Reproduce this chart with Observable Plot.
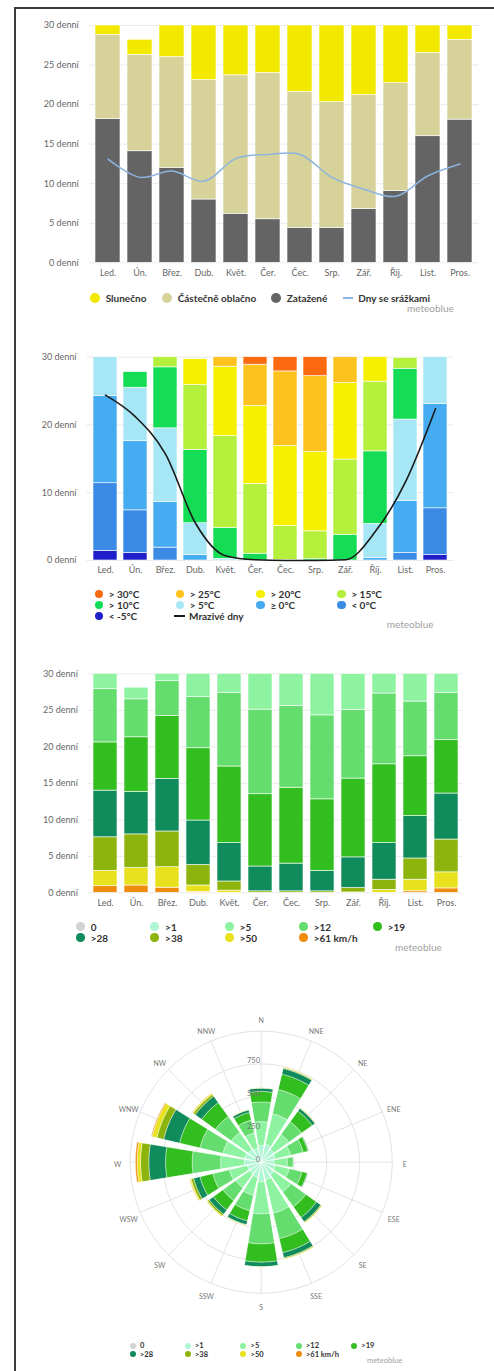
<!DOCTYPE html>
<html><head><meta charset="utf-8">
<script src="https://cdn.jsdelivr.net/npm/d3@7"></script>
<script src="https://cdn.jsdelivr.net/npm/@observablehq/plot@0.6"></script>
<style>
body{margin:0;background:#fff;font-family:Lato,"Open Sans",sans-serif;}
#page{position:relative;width:494px;height:1371px;overflow:hidden;background:#fff;}
#frame{position:absolute;left:14px;top:7px;width:600px;height:1500px;border-left:2px solid #3c3c3c;border-top:2px solid #3c3c3c;}
.li{position:absolute;display:flex;align-items:center;font-weight:bold;color:#333;white-space:nowrap;}
.li .sw{display:inline-block;border-radius:50%;flex:none;}
.li .ln{display:inline-block;height:2px;flex:none;}
.mb{position:absolute;color:#a0a0a0;white-space:nowrap;line-height:1;}
</style></head>
<body><div id="page"><div id="frame"></div></div>
<script>
// ---------- DATA ----------
const months = ["Led.","Ún.","Břez.","Dub.","Květ.","Čer.","Čec.","Srp.","Zář.","Říj.","List.","Pros."];

// Panel 1: cloud cover (days), bottom to top
const cloudCats = ["Zatažené","Částečně oblačno","Slunečno"];
const overcast = [18.2,14.1,12.0,8.0,6.2,5.5,4.4,4.4,6.8,9.1,16.0,18.1];
const partly   = [10.6,12.2,14.0,15.1,17.5,18.5,17.2,15.9,14.4,13.6,10.5,10.1];
const sunny    = [2.2,1.9,5.0,6.9,7.3,6.0,9.4,10.7,8.8,8.3,3.5,2.8];
const precipDays = [13.1,10.8,11.6,10.3,13.2,13.7,13.7,10.8,9.3,8.4,11.0,12.5];
const cloudColors = ["#646464","#d7d29a","#f3e800"];

// Panel 2: max temperature (days), bottom to top
const tempCats = ["< -5°C","< 0°C","≥ 0°C","> 5°C","> 10°C","> 15°C","> 20°C","> 25°C","> 30°C"];
const tLtM5 = [1.4,1.1,0,0,0,0,0,0,0,0,0,0.8];
const tLt0  = [10.0,6.3,1.9,0,0,0,0,0,0,0,1.1,6.9];
const tGe0  = [12.9,10.2,6.7,0.8,0,0,0,0,0,0.4,7.7,15.4];
const tGt5  = [6.7,7.9,10.9,4.7,0.25,0,0,0,0,5.0,12.0,7.9];
const tGt10 = [0,2.3,9.0,10.8,4.55,1.0,0.1,0.2,3.8,10.7,7.5,0];
const tGt15 = [0,0,2.5,9.6,13.55,10.3,5.0,4.1,11.1,10.3,1.6,0];
const tGt20 = [0,0,0,3.8,10.25,11.5,11.8,11.7,11.3,4.6,0,0];
const tGt25 = [0,0,0,0,2.4,6.1,11.0,11.2,3.8,0,0,0];
const tGt30 = [0,0,0,0,0,1.1,3.1,3.8,0,0,0,0];
const frostDays = [24.4,21.2,15.7,5.5,0.7,0.1,0,0,0.1,4.3,11.6,22.4];
const tempColors = ["#1f1ec8","#3a8ae6","#46acf2","#a6e6f5","#14dc55","#b4f03c","#f7ef00","#fdc21e","#fb6a10"];

// Panel 3: wind speed (days), bottom to top
const windBarCats = [">61 km/h",">50",">38",">28",">19",">12",">5"];
const w61 = [0.9,1.0,0.7,0.1,0,0,0,0,0,0,0.2,0.6];
const w50 = [2.1,2.4,2.8,0.9,0.3,0,0,0,0.05,0.4,1.6,2.2];
const w38 = [4.6,4.6,4.9,2.8,1.25,0.2,0.2,0.2,0.6,1.4,2.9,4.5];
const w28 = [6.4,5.8,7.2,6.1,5.25,3.4,3.8,2.8,4.2,5.0,5.8,6.3];
const w19 = [6.6,7.5,8.6,9.9,10.5,9.9,10.4,9.8,10.8,10.8,8.2,7.3];
const w12 = [7.3,5.2,4.8,7.0,10.1,11.6,11.2,11.5,9.4,9.7,7.5,6.45];
const w5  = [3.1,1.6,2.0,3.25,3.6,4.9,5.4,6.7,4.9,3.7,3.8,3.6];

// Panel 4: wind rose (hours per direction and speed class)
const dirs = ["N","NNE","NE","ENE","E","ESE","SE","SSE","S","SSW","SW","WSW","W","WNW","NW","NNW"];
const speedCats = ["0",">1",">5",">12",">19",">28",">38",">50",">61 km/h"];
const speedColors = ["#d2d2d2","#b0f5d4","#8ef3a0","#64dc6e","#32be1e","#108c5c","#8cb40c","#e8e21e","#f08c0c"];
const r0  = [5,5,5,5,5,5,5,5,5,5,5,5,5,5,5,5];
const r1  = [125,135,115,105,95,105,115,135,145,115,105,105,125,125,115,105];
const r5  = [180,240,140,120,100,110,160,260,245,140,130,140,180,170,160,120];
const r12 = [150,190,120,100,45,100,140,200,228,120,120,130,217,180,150,100];
const r19 = [80,120,100,35,2,40,100,110,140,80,90,100,203,160,130,60];
const r28 = [25,45,25,7,0,6,40,40,35,30,40,50,128,125,60,20];
const r38 = [3,7,5,1,0,1,8,8,2,5,15,20,63,53,18,4];
const r50 = [1,4,2,0,0,0,4,4,1,2,8,10,26,37,10,1];
const r61 = [0,0,0,0,0,0,0,0,0,0,1,2,13,7,2,0];
const roseTicks = [0,250,500,750];
const roseMax = 1000;

// ---------- HELPERS ----------
const page = document.getElementById("page");
function place(node, top){ node.style.position="absolute"; node.style.left="0px"; node.style.top=top+"px"; page.appendChild(node); }
function tidy(cats, arrays){ return cats.flatMap((c,j)=>months.map((m,i)=>({month:m, cat:c, value:arrays[j][i]}))); }
function item(x, y, r, gap, color, text, fs, type){
  const d = document.createElement("div");
  d.className = "li";
  d.style.left = (type==="line" ? x : x - r) + "px";
  d.style.top = (y - 7) + "px";
  d.style.height = "14px";
  d.style.fontSize = fs + "px";
  const s = document.createElement("span");
  if (type==="line"){ s.className="ln"; s.style.width = r + "px"; }
  else { s.className="sw"; s.style.width = s.style.height = (2*r) + "px"; }
  s.style.background = color;
  const t = document.createElement("span");
  t.textContent = text; t.style.marginLeft = gap + "px";
  d.appendChild(s); d.appendChild(t); page.appendChild(d);
}
function brand(x, y, fs){
  const d = document.createElement("div"); d.className="mb"; d.textContent="meteoblue";
  d.style.left = x+"px"; d.style.top = (y - fs*0.55)+"px"; d.style.fontSize = fs+"px"; page.appendChild(d);
}
const axisStyle = {fontFamily:"Lato, 'Open Sans', sans-serif", fontSize:"9px", color:"#666", background:"transparent", overflow:"visible"};

function barPanel({data, cats, colors, ticks, top, height, mt, mb, ml, mr, padIn, ypad, xpad, line, lineColor, lineWidth, curve}){
  const marks = [
    Plot.ruleY(ticks, {stroke:"#e9e9e9", strokeWidth:1}),
    Plot.barY(data, {x:"month", y:"value", fill:"cat", order:cats, stroke:"#fff", strokeWidth:0.6})
  ];
  if (line) marks.push(Plot.line(months.map((m,i)=>({month:m, value:line[i]})), {x:"month", y:"value", stroke:lineColor, strokeWidth:lineWidth, curve}));
  const svg = Plot.plot({
    width:494, height, marginTop:mt, marginBottom:mb, marginLeft:ml, marginRight:mr,
    style: axisStyle,
    x:{domain:months, paddingInner:padIn, paddingOuter:padIn/2, label:null, tickSize:0, tickPadding:xpad},
    y:{domain:[0,30], clamp:true, ticks, tickFormat:d=>d+" denní", label:null, tickSize:0, tickPadding:ypad},
    color:{domain:cats, range:colors},
    marks
  });
  place(svg, top);
}

// ---------- PANEL 1 ----------
barPanel({data:tidy(cloudCats,[overcast,partly,sunny]), cats:cloudCats, colors:cloudColors,
  ticks:[0,5,10,15,20,25,30], top:0, height:285, mt:25, mb:22.7, ml:89.1, mr:15.5, padIn:0.21,
  ypad:11, xpad:7, line:precipDays, lineColor:"#8cb4e0", lineWidth:1.5, curve:"catmull-rom"});
item(95,298,5,5.7,cloudColors[2],"Slunečno",10);
item(167,298,5,5.7,cloudColors[1],"Částečně oblačno",10);
item(276,298,5,5.7,cloudColors[0],"Zatažené",10);
item(343,298,10,5.3,"#8cb4e0","Dny se srážkami",10,"line");
brand(407,308,10);

// ---------- PANEL 2 ----------
barPanel({data:tidy(tempCats,[tLtM5,tLt0,tGe0,tGt5,tGt10,tGt15,tGt20,tGt25,tGt30]), cats:tempCats, colors:tempColors,
  ticks:[0,10,20,30], top:330, height:250, mt:26.7, mb:20, ml:86.4, mr:40.4, padIn:0.19,
  ypad:10.4, xpad:6.2, line:frostDays, lineColor:"#1a1a1a", lineWidth:1.6, curve:"monotone-x"});
const tLegend = [
  ["> 30°C",8],["> 25°C",7],["> 20°C",6],["> 15°C",5],
  ["> 10°C",4],["> 5°C",3],["≥ 0°C",2],["< 0°C",1],
  ["< -5°C",0]];
const tCols = [99,180,260.7,341.7], tRowY = [594,605,616];
tLegend.forEach(([txt,ci],k)=> item(tCols[k%4], tRowY[Math.floor(k/4)], 4.3, 5.4, tempColors[ci], txt, 10));
item(174,616,11,4,"#1a1a1a","Mrazivé dny",10,"line");
brand(386.7,624,10);

// ---------- PANEL 3 ----------
barPanel({data:tidy(windBarCats,[w61,w50,w38,w28,w19,w12,w5]), cats:windBarCats,
  colors:[speedColors[8],speedColors[7],speedColors[6],speedColors[5],speedColors[4],speedColors[3],speedColors[2]],
  ticks:[0,5,10,15,20,25,30], top:650, height:265, mt:23.3, mb:22.7, ml:87.7, mr:31.1, padIn:0.21,
  ypad:10.4, xpad:6.5, line:null});
const wCols = [80.3,154.7,229.3,303.3,377.3], wRowY = [926.7,937.7];
speedCats.forEach((c,k)=> item(wCols[k%5], wRowY[Math.floor(k/5)], 4.3, 6.1, speedColors[k], c, 10));
brand(395,947.3,10);

// ---------- PANEL 4: wind rose ----------
const R = 1/roseMax; // degrees of arc per unit
const hw = 9.2;
const lonOf = a => 180 - a;
function wedge(theta, v0, v1){
  const pts = [], n = 16;
  const a0 = Math.max(v0, 0.5), a1 = v1;
  for (let k=0;k<=n;k++){ const a = theta - hw + 2*hw*k/n; pts.push([lonOf(a), 90 - a1*R]); }
  for (let k=n;k>=0;k--){ const a = theta - hw + 2*hw*k/n; pts.push([lonOf(a), 90 - a0*R]); }
  pts.push(pts[0]);
  const g = {type:"Polygon", coordinates:[pts]};
  if (d3.geoArea(g) > 2*Math.PI) g.coordinates[0].reverse();
  return g;
}
const roseSeries = [r0,r1,r5,r12,r19,r28,r38,r50,r61];
const roseFeatures = [];
dirs.forEach((d,i)=>{
  let acc = 0;
  speedCats.forEach((c,j)=>{
    const v = roseSeries[j][i];
    if (v > 0) roseFeatures.push({type:"Feature", properties:{cat:c, dir:d}, geometry:wedge(i*22.5, acc, acc+v)});
    acc += v;
  });
});
const gridCircles = [...roseTicks.slice(1), roseMax].map(v => d3.geoCircle().center([0,90]).radius(v*R).precision(2)());
const spokes = dirs.map((d,i)=>({type:"LineString", coordinates:[[lonOf(i*22.5),90],[lonOf(i*22.5),90 - roseMax*R]]}));
const rose = Plot.plot({
  width:494, height:330, marginLeft:129.7, marginRight:102.3, marginTop:20.7, marginBottom:47.3,
  style:{fontFamily:"Lato, 'Open Sans', sans-serif", fontSize:"7px", color:"#666", background:"transparent", overflow:"visible"},
  projection:{type:"azimuthal-equidistant", rotate:[0,-90], clip:false, domain:d3.geoCircle().center([0,90]).radius(roseMax*R)()},
  color:{domain:speedCats, range:speedColors},
  marks:[
    Plot.geo(gridCircles, {stroke:"#e2e2e2", strokeWidth:1, fill:"none"}),
    Plot.geo(spokes, {stroke:"#e2e2e2", strokeWidth:1}),
    Plot.geo(roseFeatures, {fill:d=>d.properties.cat, stroke:"#fff", strokeWidth:0.4}),
    Plot.text(dirs, {x:(d,i)=>lonOf(i*22.5), y:()=>90 - 1.095*roseMax*R, text:d=>d, fill:"#777", fontSize:7, dy:2.5}),
    Plot.text(roseTicks, {x:()=>180, y:v=>90 - v*R, text:v=>String(v), textAnchor:"end", dx:-1.2, dy:-3, fill:"#777", fontSize:7.5})
  ]
});
place(rose, 1010);
const rCols = [132.7,187.7,243.3,298.7,354], rRowY = [1345.7,1354];
speedCats.forEach((c,k)=> item(rCols[k%5], rRowY[Math.floor(k/5)], 3, 4.3, speedColors[k], c, 7.5));
brand(367,1361,7.5);
</script></body></html>
